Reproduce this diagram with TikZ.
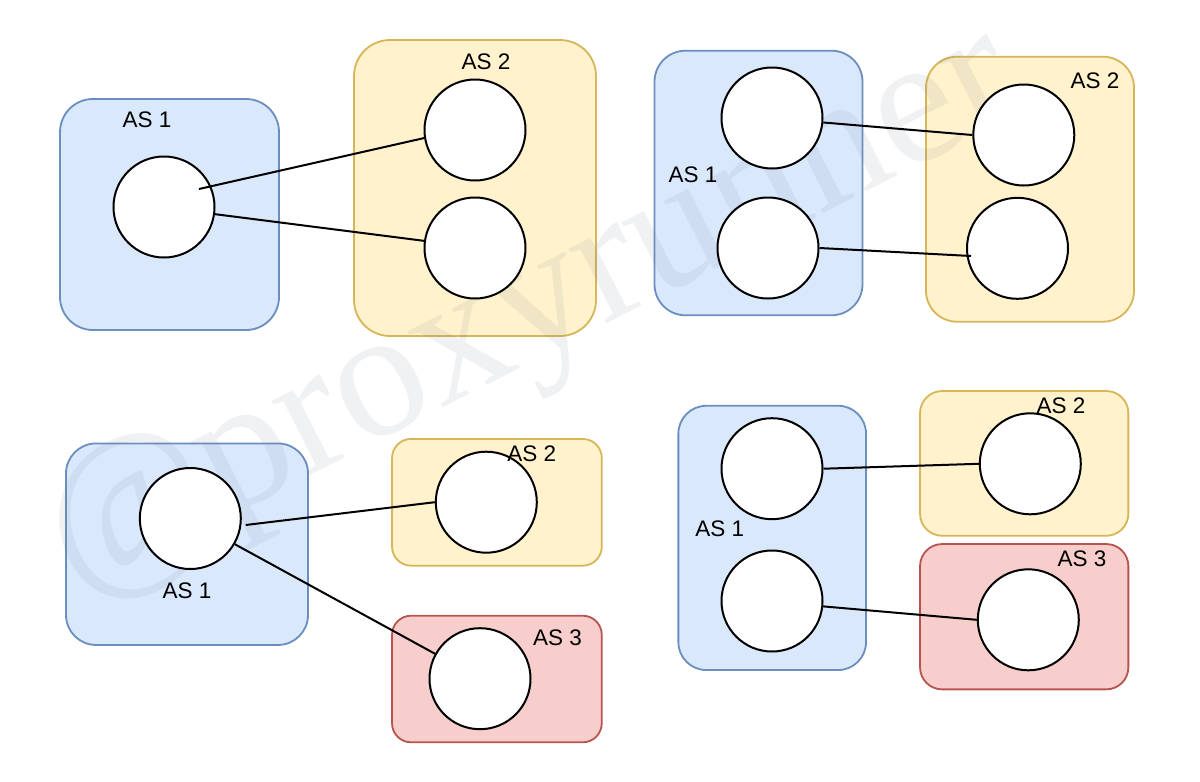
\documentclass[tikz,border=0pt]{standalone}
\usepackage{fontspec}
\setmainfont{Liberation Sans}
\newfontfamily\wmfont{Liberation Serif}
\definecolor{bluefill}{HTML}{DAE8FC}
\definecolor{bluedraw}{HTML}{6C8EBF}
\definecolor{yellowfill}{HTML}{FFF2CC}
\definecolor{yellowdraw}{HTML}{D6B656}
\definecolor{redfill}{HTML}{F8CECC}
\definecolor{reddraw}{HTML}{B85450}
\definecolor{wmcol}{RGB}{110,125,145}
\tikzset{
  asbox/.style={rectangle, line width=1.8pt, inner sep=0pt},
  bluebox/.style={asbox, draw=bluedraw, fill=bluefill},
  yellowbox/.style={asbox, draw=yellowdraw, fill=yellowfill},
  redbox/.style={asbox, draw=reddraw, fill=redfill},
  host/.style={circle, draw=black, fill=white, line width=2pt, minimum size=101pt, inner sep=0pt},
  aslabel/.style={inner sep=0pt, font=\fontsize{22.5}{26}\selectfont},
  link/.style={draw=black, line width=2pt},
}
\begin{document}
\begin{tikzpicture}[x=1pt,y=-1pt]
\useasboundingbox (0,0) rectangle (1200,782);
\fill[white] (0,0) rectangle (1200,782);

% ---- boxes ----
% panel 1
\node[bluebox, minimum width=219pt, minimum height=231pt, rounded corners=33pt] (b1) at (169.5,214.5) {};
\node[yellowbox, minimum width=242pt, minimum height=296pt, rounded corners=36pt] (b2) at (475,188) {};
% panel 2
\node[bluebox, minimum width=208pt, minimum height=264.6pt, rounded corners=31pt] (b3) at (758.5,183) {};
\node[yellowbox, minimum width=208pt, minimum height=265pt, rounded corners=31pt] (b4) at (1030,189.2) {};
% panel 3
\node[bluebox, minimum width=242pt, minimum height=201.5pt, rounded corners=30pt] (b5) at (187,544.2) {};
\node[yellowbox, minimum width=209.7pt, minimum height=126.7pt, rounded corners=19pt] (b6) at (496.9,502.3) {};
\node[redbox, minimum width=209.7pt, minimum height=126.6pt, rounded corners=19pt] (b7) at (496.9,679) {};
% panel 4
\node[bluebox, minimum width=187.7pt, minimum height=264.3pt, rounded corners=28pt] (b8) at (772.2,537.9) {};
\node[yellowbox, minimum width=208.3pt, minimum height=144.7pt, rounded corners=22pt] (b9) at (1024.2,463.4) {};
\node[redbox, minimum width=208.3pt, minimum height=145.3pt, rounded corners=22pt] (b10) at (1024.2,616.7) {};

% ---- watermark ----
\node[rotate=27, inner sep=0pt, text=wmcol, text opacity=0.1,
      font=\wmfont\fontsize{182}{200}\selectfont] (wm) at (533,316) {@proxyrunner};

% ---- hosts ----
\node[host] (p1a) at (164,207) {};
\node[host] (p1b) at (475,130) {};
\node[host] (p1c) at (475,248) {};

\node[host] (p2a) at (772,118) {};
\node[host] (p2b) at (768,248) {};
\node[host] (p2c) at (1023.8,135) {};
\node[host] (p2d) at (1017.5,248.3) {};

\node[host] (p3a) at (190.3,518.5) {};
\node[host] (p3b) at (486.3,502.2) {};
\node[host] (p3c) at (480,678.7) {};

\node[host] (p4a) at (772,468.7) {};
\node[host] (p4b) at (772,601) {};
\node[host] (p4c) at (1030.3,463.8) {};
\node[host] (p4d) at (1028.3,619.8) {};

% ---- free connector ends ----
\coordinate (s1) at (199,189);
\coordinate (e2) at (971,256);
\coordinate (s3) at (245.7,525);

% ---- links ----
\draw[link] (s1) -- (p1b.189.6);
\draw[link] (p1a.352) -- (p1c.172.6);

\draw[link] (p2a.355) -- (p2c.west);
\draw[link] (p2b.east) -- (e2);

\draw[link] (s3) -- (p3b.west);
\draw[link] (p3a.330) -- (p3c.151.2);

\draw[link] (p4a.east) -- (p4c.west);
\draw[link] (p4b.354) -- (p4d.west);

% ---- labels ----
\node[aslabel] (l1a) at (147,120) {AS 1};
\node[aslabel] (l1b) at (486,62) {AS 2};
\node[aslabel] (l2a) at (693,175) {AS 1};
\node[aslabel] (l2b) at (1095,81) {AS 2};
\node[aslabel] (l3a) at (187,591) {AS 1};
\node[aslabel] (l3b) at (531.7,453.7) {AS 2};
\node[aslabel] (l3c) at (557.5,637.5) {AS 3};
\node[aslabel] (l4a) at (719.7,528.7) {AS 1};
\node[aslabel] (l4b) at (1061,406) {AS 2};
\node[aslabel] (l4c) at (1082,559) {AS 3};
\end{tikzpicture}
\end{document}
